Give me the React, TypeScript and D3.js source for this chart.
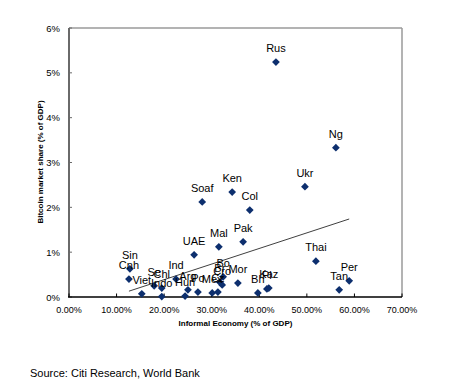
import React from "react";
import * as d3 from "d3";

const countries = ["Rus","Ng","Ukr","Ken","Soaf","Col","Pak","Mal","UAE","Thai","Per","Tan","Sin","Cnh","Viet","Se","Chl","Indo","Ind","Arg","Hun","Po","Mex","Cz","Br","Cro","Bo","Mor","Bh","Pl","Kaz"];
const informal = [43.5,56.1,49.6,34.3,28.0,38.0,36.6,31.5,26.3,51.9,58.9,56.8,12.8,12.6,15.3,17.9,19.5,19.5,22.5,25.0,24.4,27.1,30.1,31.3,31.7,32.2,32.4,35.5,39.7,41.6,42.0];
const bitcoin = [5.24,3.33,2.46,2.34,2.12,1.94,1.23,1.12,0.94,0.80,0.36,0.16,0.63,0.40,0.07,0.25,0.20,0.01,0.40,0.16,0.02,0.11,0.09,0.11,0.33,0.27,0.45,0.31,0.09,0.18,0.20];
const trendX = [12.6, 58.9];
const trendY = [0.13, 1.74];
const xTicks = [0,10,20,30,40,50,60,70];
const yTicks = [0,1,2,3,4,5,6];

export default function App() {
  const x = d3.scaleLinear().domain([0, 70]).range([69, 402]);
  const y = d3.scaleLinear().domain([0, 6]).range([297, 28]);
  const diamond = d3.symbol().type(d3.symbolSquare).size(30)();
  const font = "'Liberation Sans', Arial, sans-serif";
  const line = d3.line<number>().x((_, i) => x(trendX[i])).y((d) => y(d));
  return (
    <svg width={453} height={382} style={{ position: "absolute", left: 0, top: 0 }} fontFamily={font}>
      <rect width={453} height={382} fill="#fff" />
      {/* frame */}
      <line x1={x(0)} x2={x(70)} y1={y(6)} y2={y(6)} stroke="#9a9a9a" strokeWidth={1.5} />
      <line x1={x(70)} x2={x(70)} y1={y(6)} y2={y(0)} stroke="#9a9a9a" strokeWidth={1.5} />
      {/* y axis */}
      <line x1={x(0)} x2={x(0)} y1={y(6)} y2={y(0)} stroke="#6a6a6a" strokeWidth={2} />
      {yTicks.map((t) => (
        <g key={"y" + t}>
          <line x1={x(0)} x2={x(0) + 3} y1={y(t)} y2={y(t)} stroke="#6a6a6a" strokeWidth={1} />
          <text x={60} y={y(t) + 3.5} textAnchor="end" fontSize={9.5} fill="#000">{t + "%"}</text>
        </g>
      ))}
      {/* x axis */}
      <line x1={x(0) - 1} x2={x(70)} y1={y(0)} y2={y(0)} stroke="#000" strokeWidth={1.5} />
      {xTicks.map((t) => (
        <g key={"x" + t}>
          <line x1={x(t)} x2={x(t)} y1={y(0)} y2={y(0) - 3.5} stroke="#000" strokeWidth={1} />
          <text x={x(t)} y={312.5} textAnchor="middle" fontSize={9} fill="#000">{t.toFixed(2) + "%"}</text>
        </g>
      ))}
      {/* trend line */}
      <path d={line(trendY) || ""} fill="none" stroke="#404040" strokeWidth={1} />
      {/* points */}
      {countries.map((c, i) => (
        <path key={"p" + c} d={diamond} transform={`translate(${x(informal[i])},${y(bitcoin[i])}) rotate(45)`} fill="#0d2f6e" />
      ))}
      {countries.map((c, i) => (
        <text key={"l" + c} x={x(informal[i])} y={y(bitcoin[i]) - 10} textAnchor="middle" fontSize={11} fill="#000">{c}</text>
      ))}
      {/* axis titles */}
      <text x={235.5} y={326} textAnchor="middle" fontSize={8} fontWeight="bold" fill="#000">Informal Economy (% of GDP)</text>
      <text transform="translate(43,162) rotate(-90)" textAnchor="middle" fontSize={8} fontWeight="bold" fill="#000">Bitcoin market share (% of GDP)</text>
      <text x={30} y={377} fontSize={11} fill="#000">Source: Citi Research, World Bank</text>
    </svg>
  );
}
